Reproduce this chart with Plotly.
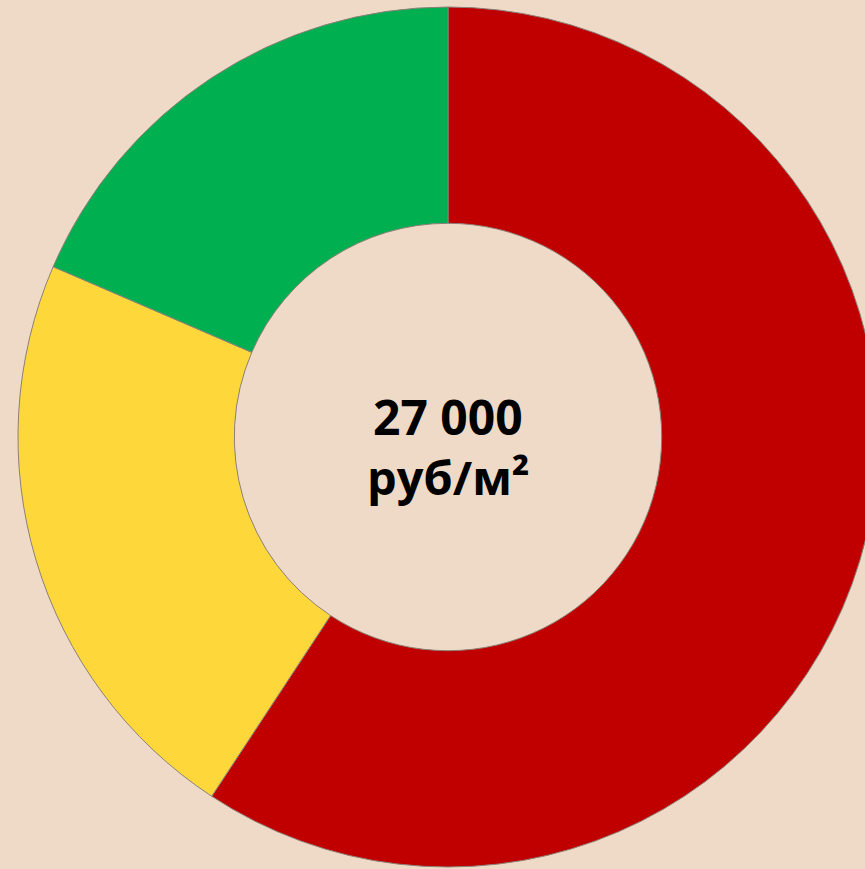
import plotly.graph_objects as go

labels = ["Красный", "Жёлтый", "Зелёный"]
values = [16000, 6000, 5000]
colors = ["#C00000", "#FED83B", "#00B050"]
center_value = "27 000"
center_unit = "руб/м²"

W, H = 878, 869
ml, mt = 18, 7
side = 860

fig = go.Figure(go.Pie(
    labels=labels,
    values=values,
    hole=0.497,
    sort=False,
    direction="clockwise",
    rotation=0,
    marker=dict(colors=colors, line=dict(color="#8C8078", width=1)),
    textinfo="none",
    hoverinfo="label+value",
    showlegend=False,
))

def py_to_paper(py):
    return (mt + side - py) / side

fig.add_annotation(x=0.5, y=py_to_paper(417), xref="paper", yref="paper",
                   text="<b>%s</b>" % center_value, showarrow=False,
                   xanchor="center", yanchor="middle",
                   font=dict(family="Open Sans", size=48, color="#000000"))
fig.add_annotation(x=0.5, y=py_to_paper(477), xref="paper", yref="paper",
                   text="<b>%s</b>" % center_unit, showarrow=False,
                   xanchor="center", yanchor="middle",
                   font=dict(family="Open Sans", size=47, color="#000000"))

fig.update_layout(
    width=W, height=H, autosize=False,
    margin=dict(l=ml, r=W - ml - side, t=mt, b=H - mt - side, pad=0),
    paper_bgcolor="#EEDAC6",
    plot_bgcolor="#EEDAC6",
)

fig.write_html(
    "out.html",
    config={"displayModeBar": False},
    post_script="document.body.style.margin='0';document.body.style.overflow='hidden';document.body.style.background='#EEDAC6';",
)
